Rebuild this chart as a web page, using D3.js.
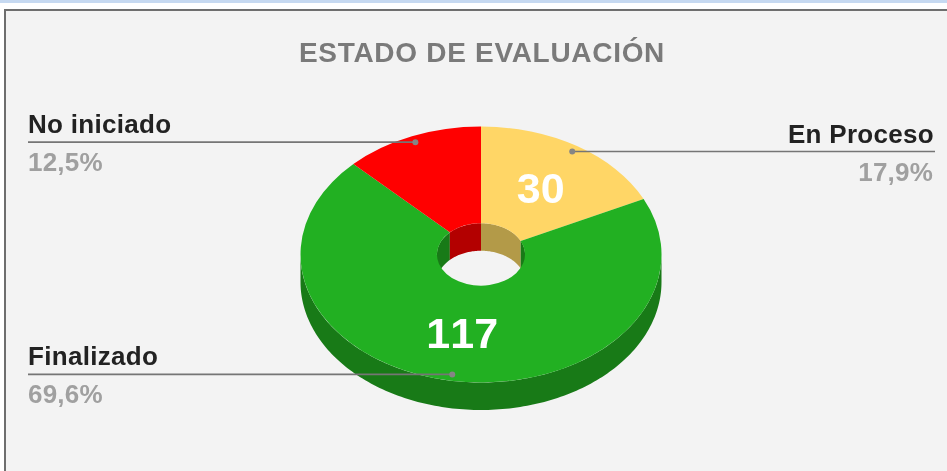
<!doctype html>
<html>
<head>
<meta charset="utf-8">
<script src="https://cdn.jsdelivr.net/npm/d3@7/dist/d3.min.js"></script>
<style>
html, body { margin: 0; padding: 0; background: #fff; overflow: hidden; }
svg { display: block; font-family: "Liberation Sans", Arial, sans-serif; filter: blur(0.6px); }
</style>
</head>
<body>
<svg width="947" height="471"></svg>
<script>
var categories = ["En Proceso", "Finalizado", "No iniciado"];
var values = [30, 117, 21];
var percents = ["17,9%", "69,6%", "12,5%"];
var sliceLabels = ["30", "117", ""];
var topColors = ["#ffd666", "#22b022", "#ff0000"];
var wallColors = ["#b39a48", "#187a17", "#b30000"];

var svg = d3.select("svg");
var cx = 481, cy = 254.5, rx = 180.5, ry = 128, depth = 27.5, hole = 0.244;

// frame, right and bottom edges run off the page
svg.append("rect").attr("width", 947).attr("height", 3).attr("fill", "#c6d9f1");
svg.append("rect").attr("x", 5).attr("y", 10).attr("width", 960).attr("height", 480)
   .attr("fill", "#f3f3f3").attr("stroke", "#6e6e6e").attr("stroke-width", 2);

svg.append("text").attr("x", 482).attr("y", 62).attr("text-anchor", "middle")
   .attr("font-size", 28).attr("font-weight", "bold").attr("letter-spacing", 0.7).attr("fill", "#7a7a7a")
   .text("ESTADO DE EVALUACIÓN");

var slices = d3.pie().sort(null)(values);

// helper: wall between the ellipse edge and the same edge moved down by depth
function wall(r, from, to) {
  var n = Math.max(2, Math.ceil((to - from) / 0.02));
  var angles = d3.range(n + 1).map(function(i) { return from + (to - from) * i / n; });
  return d3.area()
    .x(function(a) { return cx + rx * r * Math.sin(a); })
    .y0(function(a) { return cy - ry * r * Math.cos(a); })
    .y1(function(a) { return cy - ry * r * Math.cos(a) + depth; })(angles);
}

var P = Math.PI;
// outer wall, only the front half shows
slices.forEach(function(s, i) {
  var a0 = Math.max(s.startAngle, P / 2), a1 = Math.min(s.endAngle, 3 * P / 2);
  if (a1 > a0) svg.append("path").attr("d", wall(1, a0, a1)).attr("fill", wallColors[i]);
});
// inner wall, only the back half shows (top surface covers the rest)
slices.forEach(function(s, i) {
  [[s.startAngle, s.endAngle], [s.startAngle - 2 * P, s.endAngle - 2 * P]].forEach(function(r) {
    var a0 = Math.max(r[0], -P / 2), a1 = Math.min(r[1], P / 2);
    if (a1 > a0) svg.append("path").attr("d", wall(hole, a0, a1)).attr("fill", wallColors[i]);
  });
});

// top surface
var arc = d3.arc().innerRadius(hole).outerRadius(1);
var top_ = svg.append("g").attr("transform", "translate(" + cx + "," + cy + ") scale(" + rx + "," + ry + ")");
top_.selectAll("path").data(slices).join("path")
    .attr("d", arc)
    .attr("fill", function(d, i) { return topColors[i]; });

// value labels
svg.selectAll("text.val").data(slices).join("text").attr("class", "val")
   .attr("x", function(d) { return cx + rx * arc.centroid(d)[0]; })
   .attr("y", function(d) { return cy + ry * arc.centroid(d)[1] + 15.5; })
   .attr("text-anchor", "middle").attr("font-size", 43).attr("font-weight", "bold").attr("fill", "#ffffff")
   .style("font-kerning", "none")
   .text(function(d, i) { return sliceLabels[i]; });

// leader lines
var leftEdge = 28, rightEdge = 935;
slices.forEach(function(s, i) {
  var mid = (s.startAngle + s.endAngle) / 2;
  var x = cx + rx * 0.95 * Math.sin(mid), y = cy - ry * 0.95 * Math.cos(mid);
  var right = Math.sin(mid) > 0;
  var end = right ? rightEdge : leftEdge;
  svg.append("line").attr("x1", x).attr("x2", end).attr("y1", y).attr("y2", y)
     .attr("stroke", "#757575").attr("stroke-width", 1.6);
  svg.append("circle").attr("cx", x).attr("cy", y).attr("r", 3).attr("fill", "#858585");
  var anchor = right ? "end" : "start";
  svg.append("text").attr("x", end + (right ? -1 : 0)).attr("y", y - 9).attr("text-anchor", anchor)
     .attr("font-size", 26).attr("font-weight", "bold").attr("letter-spacing", 0.3).attr("fill", "#222222").text(categories[i]);
  svg.append("text").attr("x", end + (right ? -2 : 0)).attr("y", y + 29).attr("text-anchor", anchor)
     .attr("font-size", 26).attr("font-weight", "bold").attr("letter-spacing", 0.2).attr("fill", "#a0a0a0").text(percents[i]);
});
</script>
</body>
</html>
